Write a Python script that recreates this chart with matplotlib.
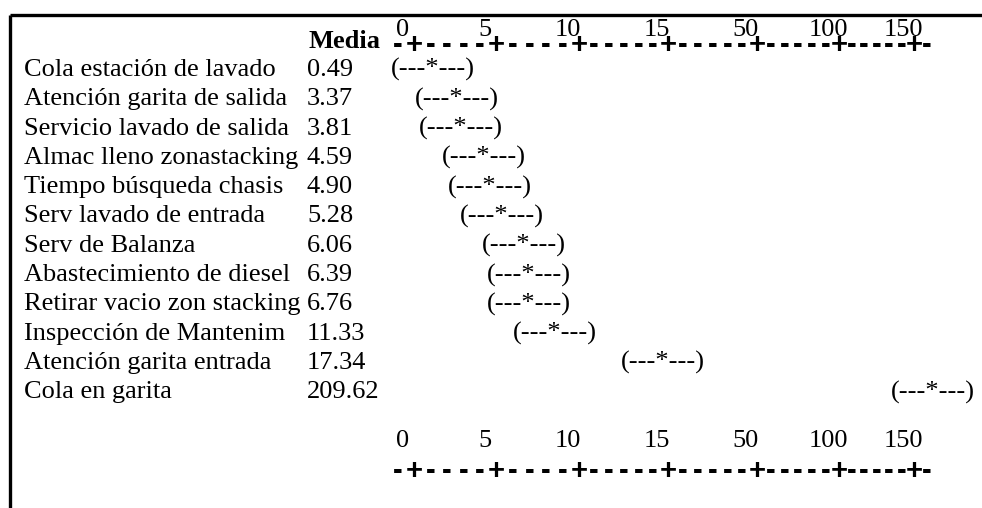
import numpy as np
import matplotlib
matplotlib.use('Agg')
import matplotlib.pyplot as plt

# Intervalos de confianza por actividad (salida tipo texto)
actividades = ['Cola estación de lavado', 'Atención garita de salida', 'Servicio lavado de salida',
               'Almac lleno zonastacking', 'Tiempo búsqueda chasis', 'Serv lavado de entrada',
               'Serv de Balanza', 'Abastecimiento de diesel', 'Retirar vacio zon stacking',
               'Inspección de Mantenim', 'Atención garita entrada', 'Cola en garita']
medias = ['0.49', '3.37', '3.81', '4.59', '4.90', '5.28', '6.06', '6.39', '6.76',
          '11.33', '17.34', '209.62']
# centro del intervalo "(---*---)" leido sobre la escala del eje
centro_ic = [1.8, 3.3, 3.55, 4.95, 5.3, 6.0, 7.35, 7.65, 7.65, 9.2, 17.4, 170.0]
ticks = [0, 5, 10, 15, 50, 100, 150]
guiones = [4, 4, 5, 5, 5, 5]   # guiones entre cada '+'

W, H = 982, 508
tick_px = np.array([403, 485, 568, 657, 746, 828, 903], dtype=float)
tick_v = np.array(ticks, dtype=float)


def fwd(v):
    v = np.asarray(v, dtype=float)
    out = np.interp(v, tick_v, tick_px)
    s0 = (tick_px[1] - tick_px[0]) / (tick_v[1] - tick_v[0])
    s1 = (tick_px[-1] - tick_px[-2]) / (tick_v[-1] - tick_v[-2])
    out = np.where(v < tick_v[0], tick_px[0] + (v - tick_v[0]) * s0, out)
    out = np.where(v > tick_v[-1], tick_px[-1] + (v - tick_v[-1]) * s1, out)
    return out


def inv(p):
    p = np.asarray(p, dtype=float)
    out = np.interp(p, tick_px, tick_v)
    s0 = (tick_px[1] - tick_px[0]) / (tick_v[1] - tick_v[0])
    s1 = (tick_px[-1] - tick_px[-2]) / (tick_v[-1] - tick_v[-2])
    out = np.where(p < tick_px[0], tick_v[0] + (p - tick_px[0]) / s0, out)
    out = np.where(p > tick_px[-1], tick_v[-1] + (p - tick_px[-1]) / s1, out)
    return out


FONT = 'Liberation Serif'
FS = 19
TFONT = 'Liberation Sans'   # fila de marcas '+' y '-'
TFS = 21
DX = 11                     # la fila de '+' va un poco a la derecha de los numeros

fig = plt.figure(figsize=(W / 100, H / 100), dpi=100)
fig.patch.set_facecolor('white')

# capa de maquetacion en pixeles
lay = fig.add_axes([0, 0, 1, 1])
lay.set_xlim(0, W); lay.set_ylim(H, 0); lay.axis('off')

# capa con la escala del eje (no lineal)
ax = fig.add_axes([0, 0, 1, 1], sharey=lay)
ax.set_xscale('function', functions=(fwd, inv))
ax.set_xlim(float(inv(0)), float(inv(W)))
ax.axis('off')

# marco
lay.plot([10, W], [15, 15], color='black', lw=2.4, solid_capstyle='butt')
lay.plot([10, 10], [15, H], color='black', lw=2.4, solid_capstyle='butt')


def marca(x, y, s):
    lay.text(x, y, s, ha='center', va='center_baseline', fontsize=TFS, family=TFONT,
             fontweight='bold')


def escala(y_num, y_tick):
    for t in ticks:
        ax.text(t, y_num, str(t), ha='center', va='baseline', fontsize=FS, family=FONT)
    xs = [float(fwd(t)) + DX for t in ticks]
    for k, x in enumerate(xs):
        marca(x, y_tick, '+')
        if k < len(guiones):
            n = guiones[k]
            for j in range(1, n + 1):
                marca(x + (xs[k + 1] - x) * j / (n + 1), y_tick, '-')
    marca(xs[0] - (xs[1] - xs[0]) / 5, y_tick, '-')
    marca(xs[-1] + (xs[-1] - xs[-2]) / 6, y_tick, '-')


escala(36, 42)
lay.text(309, 48, 'Media', ha='left', va='baseline', fontsize=FS, family=FONT, fontweight='bold')

y0, dy = 76, 29.3
for i, (act, med, c) in enumerate(zip(actividades, medias, centro_ic)):
    y = y0 + i * dy
    lay.text(24, y, act, ha='left', va='baseline', fontsize=FS, family=FONT)
    lay.text(307, y, med, ha='left', va='baseline', fontsize=FS, family=FONT)
    ax.text(c, y, '(---*---)', ha='center', va='baseline', fontsize=FS, family=FONT)

escala(447, 468)

fig.savefig('out.png', dpi=100, facecolor='white')
